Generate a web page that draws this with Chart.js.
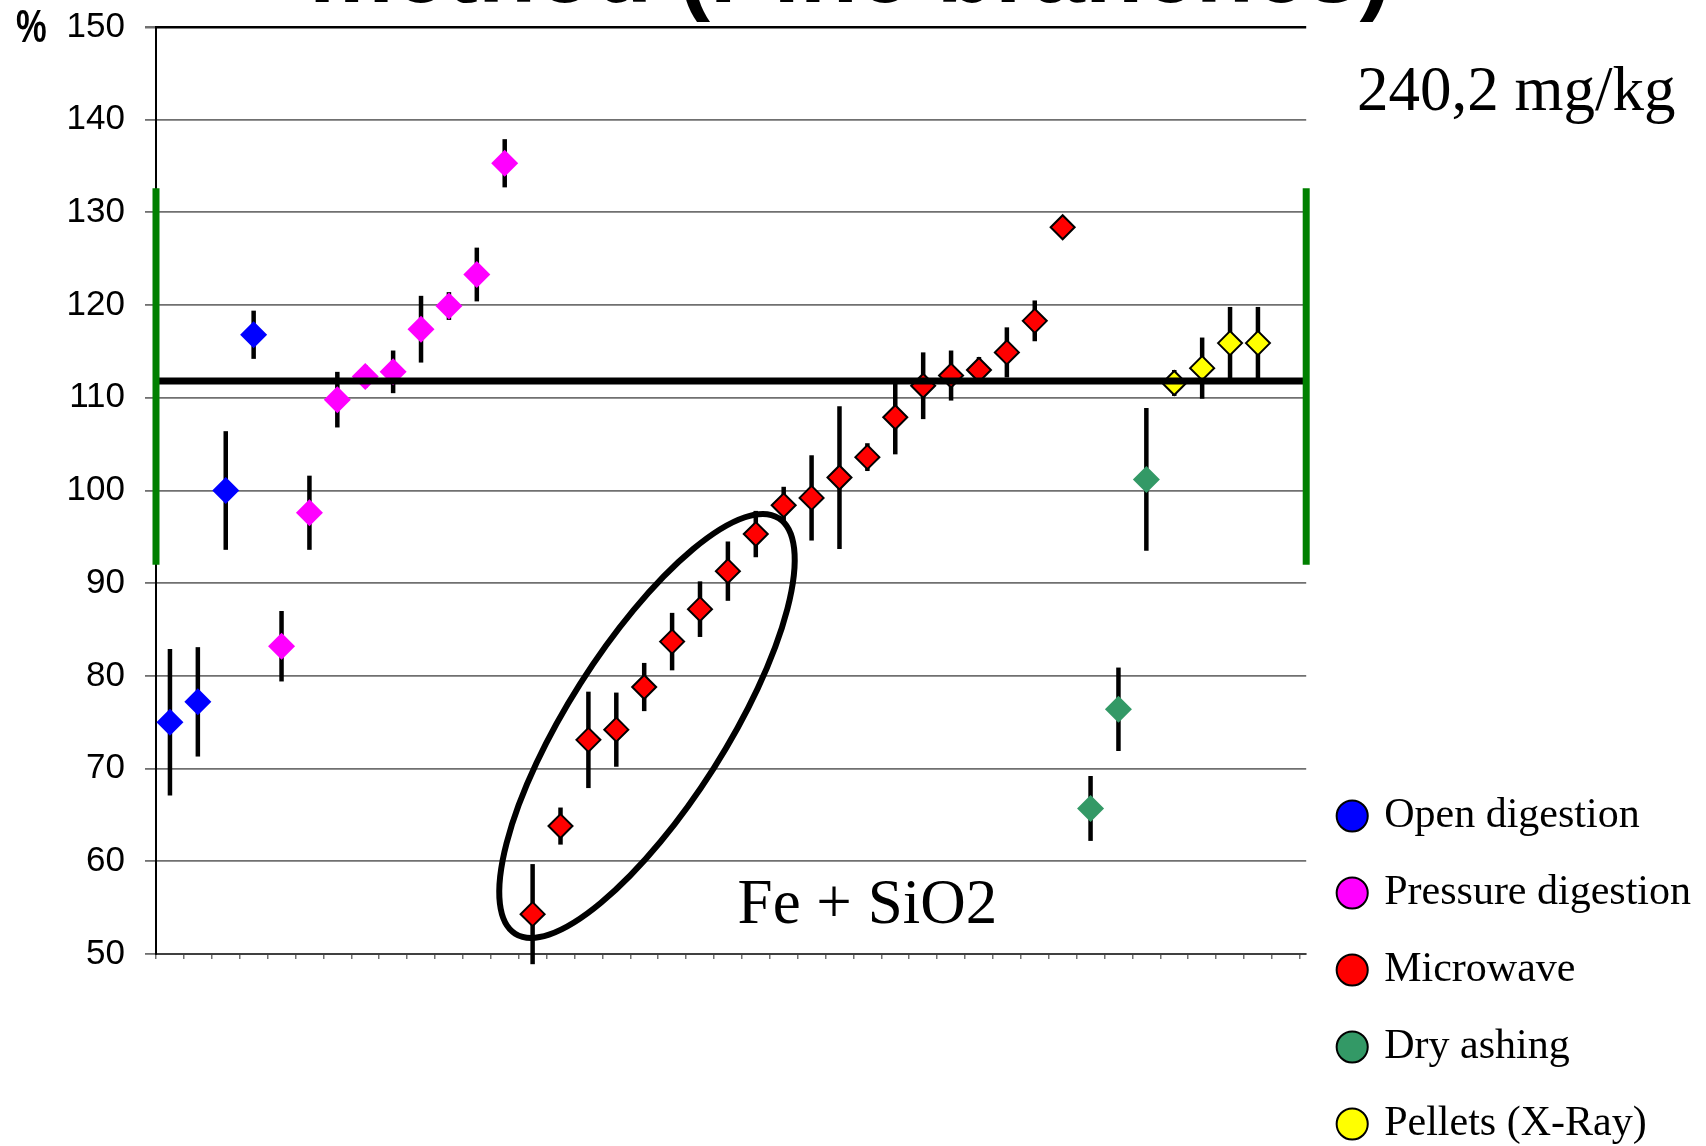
<!DOCTYPE html>
<html>
<head>
<meta charset="utf-8">
<title>Recovery by digestion method (Pine branches)</title>
<script src="https://cdn.jsdelivr.net/npm/chart.js@4.4.1/dist/chart.umd.min.js"></script>
<style>
  html, body { margin: 0; padding: 0; background: #fff; overflow: hidden; }
  #wrap { position: relative; width: 1706px; height: 1146px; overflow: hidden; }
  canvas { display: block; }
</style>
</head>
<body>
<div id="wrap"><canvas id="recoveryChart" width="1706" height="1180"></canvas></div>
<script>
// labs are numbered 0..39 along the x axis, the axis runs a bit past the last one
const xMin = -0.5;
const xMax = 40.73;

const methodNames = ['Open digestion', 'Pressure digestion', 'Microwave', 'Dry ashing', 'Pellets (X-Ray)'];

const openDigestion = [75.0, 77.2, 100.0, 116.8];
const openDigestionErr = [7.9, 5.9, 6.4, 2.6];

const pressureDigestion = [83.2, 97.6, 109.8, 112.3, 112.8, 117.4, 119.9, 123.3, 135.3];
const pressureDigestionErr = [3.8, 4.0, 3.0, 1.2, 2.3, 3.6, 1.5, 2.9, 2.6];

const microwave = [54.3, 63.8, 73.1, 74.2, 78.8, 83.7, 87.2, 91.3, 95.3, 98.4,
                   99.2, 101.4, 103.6, 107.9, 111.3, 112.4, 113.0, 114.9, 118.3, 128.4];
const microwaveErr = [5.4, 2.0, 5.2, 4.0, 2.6, 3.1, 3.0, 3.2, 2.5, 2.0,
                      4.6, 7.7, 1.5, 4.0, 3.6, 2.7, 1.4, 2.7, 2.2, 0];

const dryAshing = [65.7, 76.4, 101.2];
const dryAshingErr = [3.5, 4.5, 7.7];

const pellets = [111.6, 113.2, 115.9, 115.9];
const pelletsErr = [1.4, 3.3, 3.9, 3.9];

const yMin = 50;
const yMax = 150;
const yStep = 10;

const certifiedValue = 111.8;
const toleranceLow = 92.0;
const toleranceHigh = 132.6;

const titleText = 'method (Pine branches)';
const unitText = '%';
const concentrationText = '240,2 mg/kg';
const clusterText = 'Fe + SiO2';

const serif = '"Liberation Serif", "Times New Roman", serif';
const sans = '"Liberation Sans", Arial, sans-serif';

const groups = [
    { values: openDigestion, errors: openDigestionErr, color: '#0000FF', border: 0, radius: 13.5 },
    { values: pressureDigestion, errors: pressureDigestionErr, color: '#FF00FF', border: 0, radius: 13.5 },
    { values: microwave, errors: microwaveErr, color: '#FF0000', border: 2, radius: 12 },
    { values: dryAshing, errors: dryAshingErr, color: '#339966', border: 0, radius: 13.5 },
    { values: pellets, errors: pelletsErr, color: '#FFFF00', border: 2, radius: 12 }
];

let slot = 0;
const datasets = groups.map((g, i) => {
    const data = g.values.map((v, k) => ({ x: slot + k, y: v, err: g.errors[k] }));
    slot += g.values.length;
    return {
        label: methodNames[i],
        data: data,
        showLine: false,
        pointStyle: 'rectRot',
        pointRadius: g.radius,
        backgroundColor: g.color,
        borderColor: '#000000',
        pointBorderWidth: g.border,
        borderWidth: g.border,
        clip: false
    };
});

const overlayPlugin = {
    id: 'overlay',
    beforeDatasetsDraw(chart) {
        const { ctx, scales: { x, y } } = chart;
        ctx.save();

        // error bars sit behind the diamonds
        ctx.strokeStyle = '#000';
        ctx.lineWidth = 4.5;
        chart.data.datasets.forEach(ds => {
            ds.data.forEach(p => {
                if (!p.err) return;
                const px = x.getPixelForValue(p.x);
                ctx.beginPath();
                ctx.moveTo(px, y.getPixelForValue(p.y + p.err));
                ctx.lineTo(px, y.getPixelForValue(p.y - p.err));
                ctx.stroke();
            });
        });

        // ellipse round the Fe + SiO2 group
        ctx.lineWidth = 6;
        ctx.beginPath();
        ctx.ellipse(x.getPixelForValue(17.1), y.getPixelForValue(74.6), 246, 79,
            -57.6 * Math.PI / 180, 0, Math.PI * 2);
        ctx.stroke();
        ctx.restore();
    },
    afterDatasetsDraw(chart) {
        const { ctx, chartArea, scales: { y } } = chart;
        ctx.save();

        const yRef = y.getPixelForValue(certifiedValue);
        ctx.strokeStyle = '#000';
        ctx.lineWidth = 7;
        ctx.beginPath();
        ctx.moveTo(chartArea.left, yRef);
        ctx.lineTo(chartArea.right, yRef);
        ctx.stroke();

        ctx.strokeStyle = '#008000';
        ctx.lineWidth = 7;
        [chartArea.left, chartArea.right].forEach(px => {
            ctx.beginPath();
            ctx.moveTo(px, y.getPixelForValue(toleranceHigh));
            ctx.lineTo(px, y.getPixelForValue(toleranceLow));
            ctx.stroke();
        });
        ctx.restore();
    },
    afterDraw(chart) {
        const { ctx, scales: { x, y } } = chart;
        ctx.save();
        ctx.fillStyle = '#000';
        ctx.textBaseline = 'alphabetic';

        ctx.textAlign = 'left';
        ctx.font = 'bold 95px ' + sans;
        ctx.fillText(titleText, 309, 2);

        ctx.save();
        ctx.translate(16, 42);
        ctx.scale(0.75, 1);
        ctx.font = 'bold 46px ' + sans;
        ctx.fillText(unitText, 0, 0);
        ctx.restore();

        ctx.font = '63px ' + serif;
        ctx.fillText(concentrationText, 1357, 110);

        ctx.textAlign = 'center';
        ctx.font = '63px ' + serif;
        ctx.fillText(clusterText, x.getPixelForValue(25.0), y.getPixelForValue(53.35));
        ctx.restore();
    }
};

new Chart(document.getElementById('recoveryChart'), {
    type: 'scatter',
    data: { datasets: datasets },
    options: {
        responsive: false,
        animation: false,
        events: [],
        layout: { padding: { top: 27, right: 5, bottom: 0, left: 0 } },
        plugins: {
            tooltip: { enabled: false },
            legend: {
                position: 'right',
                align: 'end',
                labels: {
                    usePointStyle: true,
                    boxWidth: 22,
                    boxHeight: 22,
                    padding: 35,
                    color: '#000',
                    font: { family: serif, size: 42 },
                    generateLabels: chart => chart.data.datasets.map((ds, i) => ({
                        text: ds.label,
                        fillStyle: ds.backgroundColor,
                        strokeStyle: '#000',
                        lineWidth: 2,
                        pointStyle: 'circle',
                        fontColor: '#000',
                        hidden: false,
                        datasetIndex: i
                    }))
                }
            }
        },
        scales: {
            x: {
                type: 'linear',
                min: xMin,
                max: xMax,
                // tick marks between the labs
                afterBuildTicks: scale => {
                    const edges = [];
                    for (let v = xMin; v <= xMax; v += 1) edges.push({ value: v });
                    scale.ticks = edges;
                },
                afterFit: scale => { scale.height = 226; },
                grid: {
                    drawOnChartArea: false,
                    tickLength: 5,
                    color: '#707070',
                    lineWidth: 1.5
                },
                border: { display: true, color: '#404040', width: 2 },
                ticks: { display: false }
            },
            y: {
                min: yMin,
                max: yMax,
                afterFit: scale => { scale.width = 156; },
                ticks: {
                    stepSize: yStep,
                    padding: 20,
                    color: '#000',
                    font: { family: sans, size: 35, lineHeight: 0.4 }
                },
                grid: {
                    tickLength: 11,
                    tickColor: '#707070',
                    color: c => (c.tick && c.tick.value === yMax) ? '#000' : '#707070',
                    lineWidth: c => (c.tick && c.tick.value === yMax) ? 2.5 : 1.8
                },
                border: { display: true, color: '#000', width: 2 }
            }
        }
    },
    plugins: [overlayPlugin]
});
</script>
</body>
</html>
